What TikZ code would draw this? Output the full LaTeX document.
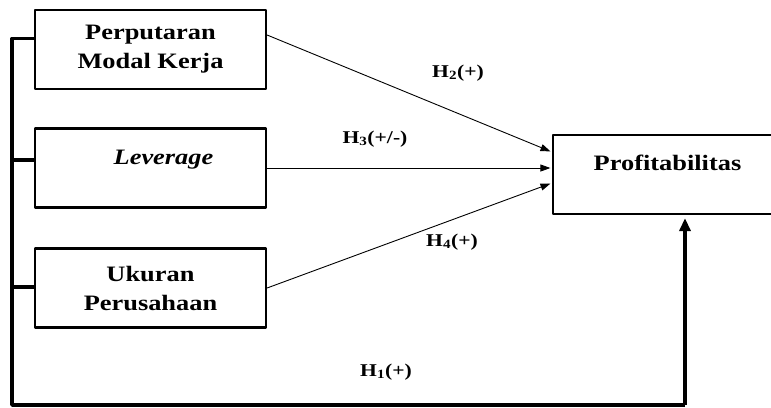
\documentclass[tikz,border=0pt]{standalone}
\usepackage{fontspec}
\setmainfont{Liberation Serif}[FakeStretch=1.2]
\usetikzlibrary{arrows.meta}

\begin{document}
\begin{tikzpicture}[x=1pt,y=-1pt,line join=round]
\tikzstyle{var} = [draw,line width=2.2pt,minimum width=231pt,minimum height=79pt,align=center,inner sep=0pt,font=\fontsize{22}{29}\selectfont\bfseries]
\tikzstyle{hyp} = [inner sep=1pt,font=\fontsize{18}{20}\selectfont\bfseries]
\tikzstyle{link} = [line width=0.9pt,-{Triangle[length=10pt,width=7pt]},shorten >=1.5pt]
\tikzstyle{bus} = [line width=3.4pt]
\useasboundingbox (0,0) rectangle (771,407);
\node[var] (modal) at (150.5,49.5) {Perputaran\\Modal Kerja};
\node[var,text depth=21pt] (lev) at (150.5,168) {\hspace*{26pt}\textit{Leverage}};
\node[var] (size) at (150.5,288) {Ukuran\\Perusahaan};
\node[var,minimum width=219pt,text depth=23pt] (prof) at (662.5,174.5) {\hspace*{10pt}Profitabilitas};
% hipotesis langsung
\draw[link] ([yshift=14.5pt]modal.east) -- ([yshift=22.5pt]prof.west);
\draw[link] (lev.east) -- ([yshift=6.5pt]prof.west);
\draw[link] (size.east) -- ([yshift=-8.5pt]prof.west);
% garis gabungan ke bawah
\coordinate (lb) at (12,405);
\coordinate (rb) at (685,405);
\draw[bus] ([yshift=11pt]modal.west) -| (lb) -- (rb);
\draw[bus] ([yshift=8pt]lev.west) -- ([yshift=8pt]lev.west -| lb);
\draw[bus] ([yshift=1pt]size.west) -- ([yshift=1pt]size.west -| lb);
\draw[bus,-{Triangle[length=13pt,width=11pt]},shorten >=3pt] (rb) -- (rb |- prof.south);
\node[hyp] (h2) at (458,73) {H\textsubscript{2}(+)};
\node[hyp] (h3) at (375,139) {H\textsubscript{3}(+/-)};
\node[hyp] (h4) at (452,242) {H\textsubscript{4}(+)};
\node[hyp] (h1) at (386,372) {H\textsubscript{1}(+)};
\end{tikzpicture}
\end{document}
